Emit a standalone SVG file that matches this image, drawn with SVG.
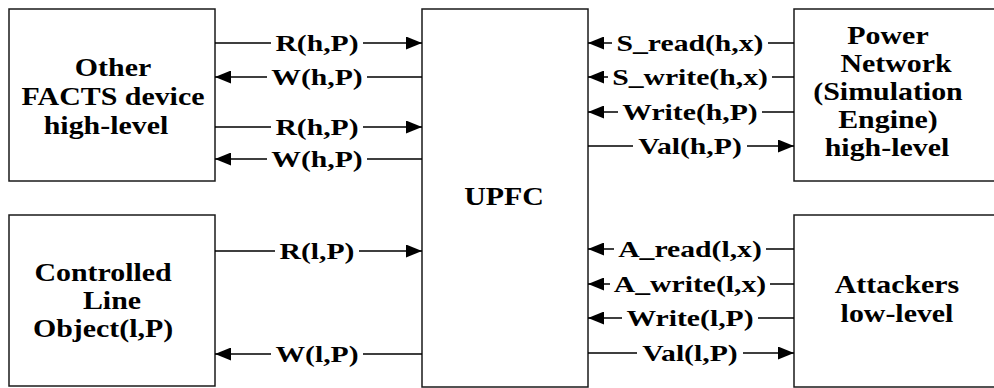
<svg xmlns="http://www.w3.org/2000/svg" width="994" height="388" viewBox="0 0 994 388">
  <defs>
    <marker id="arrow" markerUnits="userSpaceOnUse" markerWidth="16" markerHeight="13" refX="16" refY="6.5" orient="auto">
      <path d="M0,0 L16,6.5 L0,13 Z" fill="#000"/>
    </marker>
    <style>
      .box { fill: #fff; stroke: #1a1a1a; stroke-width: 1.5; }
      .wire { fill: none; stroke: #000; stroke-width: 1.3; marker-end: url(#arrow); }
      .node { font-family: "Liberation Serif", "Times New Roman", serif; font-weight: bold; font-size: 26px; text-anchor: middle; fill: #000; }
      .lbl { font-family: "Liberation Serif", "Times New Roman", serif; font-weight: bold; font-size: 23px; text-anchor: middle; fill: #000; }
    </style>
  </defs>

  <rect width="994" height="388" fill="#fff"/>

  <!-- Blocks -->
  <g id="other-facts">
    <rect class="box" x="9" y="9" width="206" height="172"/>
    <text class="node" transform="translate(113 76) scale(1.15 1)">Other</text>
    <text class="node" transform="translate(113 105) scale(1.15 1)">FACTS device</text>
    <text class="node" transform="translate(106 134) scale(1.15 1)">high-level</text>
  </g>

  <g id="controlled-line">
    <rect class="box" x="9" y="215" width="206" height="171"/>
    <text class="node" transform="translate(103 281) scale(1.15 1)">Controlled</text>
    <text class="node" transform="translate(112 309) scale(1.15 1)">Line</text>
    <text class="node" transform="translate(103 337) scale(1.15 1)">Object(l,P)</text>
  </g>

  <g id="upfc">
    <rect class="box" x="422" y="9" width="166" height="378"/>
    <text class="node" transform="translate(504 205) scale(1.15 1)">UPFC</text>
  </g>

  <g id="power-network">
    <rect class="box" x="794" y="9" width="206" height="172"/>
    <text class="node" transform="translate(888 44) scale(1.15 1)">Power</text>
    <text class="node" transform="translate(896 72) scale(1.15 1)">Network</text>
    <text class="node" transform="translate(888 100) scale(1.15 1)">(Simulation</text>
    <text class="node" transform="translate(888 128) scale(1.15 1)">Engine)</text>
    <text class="node" transform="translate(887 156) scale(1.15 1)">high-level</text>
  </g>

  <g id="attackers">
    <rect class="box" x="794" y="215" width="206" height="172"/>
    <text class="node" transform="translate(897 293) scale(1.15 1)">Attackers</text>
    <text class="node" transform="translate(897 322) scale(1.15 1)">low-level</text>
  </g>

  <!-- Signals -->
  <g id="connectors">
    <g id="c-r-h-1">
      <path class="wire" d="M215 43 H271 M363 43 H422"/>
      <text class="lbl" transform="translate(317 50.5) scale(1.29 1)">R(h,P)</text>
    </g>
    <g id="c-w-h-1">
      <path class="wire" d="M422 77 H367 M267 77 H215"/>
      <text class="lbl" transform="translate(317 84.5) scale(1.29 1)">W(h,P)</text>
    </g>
    <g id="c-r-h-2">
      <path class="wire" d="M215 127 H271 M363 127 H422"/>
      <text class="lbl" transform="translate(317 134.5) scale(1.29 1)">R(h,P)</text>
    </g>
    <g id="c-w-h-2">
      <path class="wire" d="M422 159 H367 M267 159 H215"/>
      <text class="lbl" transform="translate(317 166.5) scale(1.29 1)">W(h,P)</text>
    </g>
    <g id="c-r-l">
      <path class="wire" d="M215 251 H275 M359 251 H422"/>
      <text class="lbl" transform="translate(317 258.5) scale(1.29 1)">R(l,P)</text>
    </g>
    <g id="c-w-l">
      <path class="wire" d="M422 354 H363 M271 354 H215"/>
      <text class="lbl" transform="translate(317 361.5) scale(1.29 1)">W(l,P)</text>
    </g>

    <g id="c-s-read">
      <path class="wire" d="M794 43 H768 M612 43 H588"/>
      <text class="lbl" transform="translate(690 50.5) scale(1.29 1)">S_read(h,x)</text>
    </g>
    <g id="c-s-write">
      <path class="wire" d="M794 77 H772 M608 77 H588"/>
      <text class="lbl" transform="translate(690 84.5) scale(1.29 1)">S_write(h,x)</text>
    </g>
    <g id="c-write-h">
      <path class="wire" d="M794 112 H762 M618 112 H588"/>
      <text class="lbl" transform="translate(690 119.5) scale(1.29 1)">Write(h,P)</text>
    </g>
    <g id="c-val-h">
      <path class="wire" d="M588 146 H633 M747 146 H794"/>
      <text class="lbl" transform="translate(690 153.5) scale(1.29 1)">Val(h,P)</text>
    </g>

    <g id="c-a-read">
      <path class="wire" d="M794 249 H766 M614 249 H588"/>
      <text class="lbl" transform="translate(690 256.5) scale(1.29 1)">A_read(l,x)</text>
    </g>
    <g id="c-a-write">
      <path class="wire" d="M794 284 H770 M610 284 H588"/>
      <text class="lbl" transform="translate(690 291.5) scale(1.29 1)">A_write(l,x)</text>
    </g>
    <g id="c-write-l">
      <path class="wire" d="M794 318 H758 M622 318 H588"/>
      <text class="lbl" transform="translate(690 325.5) scale(1.29 1)">Write(l,P)</text>
    </g>
    <g id="c-val-l">
      <path class="wire" d="M588 353 H637 M743 353 H794"/>
      <text class="lbl" transform="translate(690 360.5) scale(1.29 1)">Val(l,P)</text>
    </g>
  </g>
</svg>
